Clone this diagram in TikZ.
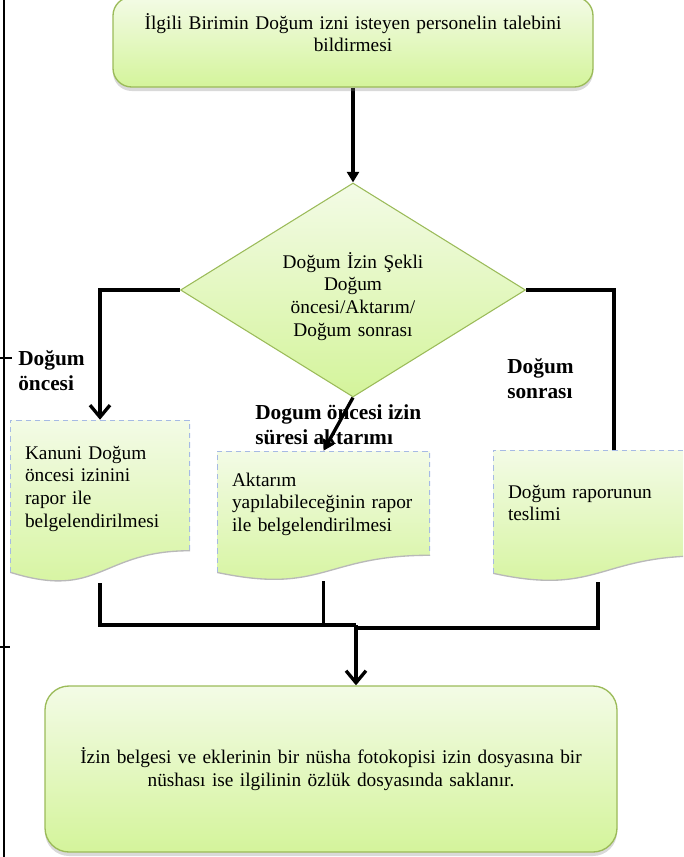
\documentclass[tikz,border=0pt]{standalone}
\usepackage{fontspec}
\setmainfont{Liberation Serif}
\usepackage{tikz}
\usetikzlibrary{positioning,shapes.geometric,arrows.meta,shadows,calc,backgrounds}
\definecolor{yesilA}{RGB}{243,251,230}
\definecolor{yesilB}{RGB}{212,244,155}
\definecolor{kenar}{RGB}{155,187,89}
\definecolor{mavi}{RGB}{166,186,228}

\begin{document}
\begin{tikzpicture}[x=0.75pt,y=-0.75pt,on grid,
  font=\fontsize{14.5}{17}\selectfont,
  kutu/.style={rectangle,draw=kenar,line width=1pt,top color=yesilA,bottom color=yesilB,
    drop shadow={shadow xshift=0pt,shadow yshift=-3pt,opacity=.3},align=center,inner ysep=0pt},
  karar/.style={diamond,draw=kenar,line width=0.8pt,top color=yesilA,bottom color=yesilB,
    shape aspect=1.6,inner sep=0pt,align=center,text width=130pt,
    minimum width=258.75pt,minimum height=160.5pt},
  belge/.style={rectangle,inner xsep=11.25pt,inner ysep=0pt,align=left,
    path picture={
      \coordinate (a) at (path picture bounding box.north west);
      \coordinate (b) at (path picture bounding box.south east);
      \coordinate (r) at ($(a-|b)!0.802!(b)$);
      \coordinate (l) at ($(a)!0.934!(a|-b)$);
      \coordinate (m) at ($(a)!0.5!(b)$);
      \coordinate (d) at ($(a)!1.107!(a|-b)$);
      \coordinate (c1) at (m |- r);
      \coordinate (c2) at (m |- d);
      \shade[top color=yesilA,bottom color=yesilB] (a) -- (a-|b) -- (r) .. controls (c1) and (c2) .. (l) -- cycle;
      \draw[gray!55,line width=1pt] (r) .. controls (c1) and (c2) .. (l);
      \draw[mavi,dash pattern=on 4pt off 3pt,line width=1.6pt] (l) -- (a) -- (a-|b) -- (r);
    }},
  etiket/.style={font=\fontsize{16}{18.75}\selectfont\bfseries,align=left,inner sep=0pt,anchor=west},
  hat/.style={line width=2.5pt},
  ok/.style={hat,-{Straight Barb[length=9pt,width=15pt,line width=2.5pt]}},
  okk/.style={hat,-{Triangle[length=8pt,width=9pt]}}]

  \useasboundingbox (0,0) rectangle (683,857);
  \clip (0,0) rectangle (683,857);

  \draw[line width=1.5pt] (4,0) -- (4,857);
  \draw[line width=1pt] (0,358) -- (12,358) (0,647) -- (10,647);

  \node[kutu,rounded corners=14pt,minimum width=360pt,minimum height=67.5pt,text width=340pt,
    text height=24pt,text depth=43.5pt] (ust) at (353,42)
    {İlgili Birimin Doğum izni isteyen personelin talebini\\ bildirmesi};

  \node[karar,text height=16.5pt,text depth=49.5pt] (karar) [below=186pt of ust]
    {Doğum İzin Şekli\\ Doğum\\ öncesi/Aktarım/\\ Doğum sonrası};

  \node[belge,text width=112.5pt,text height=29.25pt,text depth=93pt] (belge1) at (100,501.5)
    {Kanuni Doğum\\ öncesi izinini\\ rapor ile\\ belgelendirilmesi};
  \node[belge,text width=137.25pt,text height=26.25pt,text depth=71.25pt] (belge2) at (323.5,516)
    {Aktarım\\ yapılabileceğinin rapor\\ ile belgelendirilmesi};
  \node[belge,text width=135pt,text height=36pt,text depth=63pt] (belge3) at (598,516)
    {Doğum raporunun\\ teslimi};

  \node[kutu,rounded corners=18pt,minimum width=429pt,minimum height=124.5pt,text width=410pt] (son) at (331,769)
    {İzin belgesi ve eklerinin bir nüsha fotokopisi izin dosyasına bir\\ nüshası ise ilgilinin özlük dosyasında saklanır.};

  \node[etiket] (lbl1) at (18,371) {Doğum\\ öncesi};
  \node[etiket] (lbl2) at (255,424.5) {Dogum öncesi izin\\ süresi aktarımı};
  \node[etiket] (lbl3) at (507,379) {Doğum\\ sonrası};

  \coordinate (birles) at (356,625);

  \begin{pgfonlayer}{background}
  \draw[okk] (ust.south -| karar.north) -- (karar.north);
  \draw[ok] (karar.west) -| (belge1.north);
  \draw[okk] (karar.south) -- (belge2.north);
  \draw[hat] (karar.east) -| ([xshift=12pt]belge3.north);
  \draw[hat] (belge1) |- (birles);
  \draw[hat] (belge2) -- (belge2 |- birles);
  \draw[hat] (belge3) |- ([yshift=-2.25pt]birles);
  \draw[ok] (birles) -- (birles |- son.north);
  \end{pgfonlayer}
\end{tikzpicture}
\end{document}
